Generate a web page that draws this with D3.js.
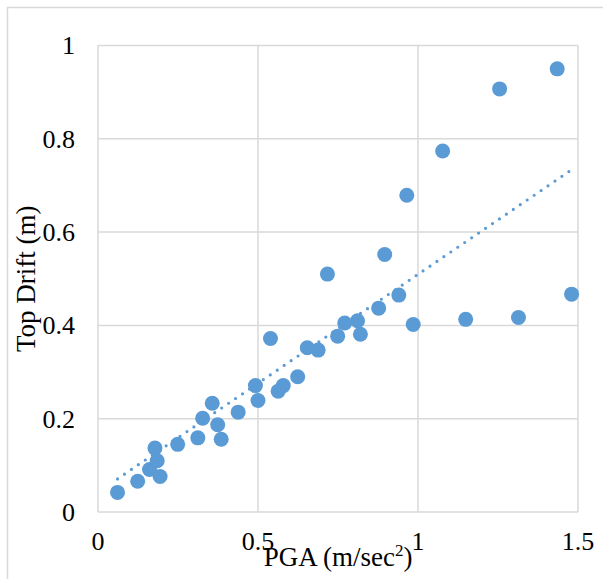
<!DOCTYPE html>
<html>
<head>
<meta charset="utf-8">
<script src="https://cdn.jsdelivr.net/npm/d3@7"></script>
<style>
  html, body { margin: 0; padding: 0; background: #fff; }
  svg { display: block; }
</style>
</head>
<body>
<svg id="chart"></svg>
<script>
// PGA (m/sec^2) per run
const pga = [0.061, 0.124, 0.178, 0.161, 0.185, 0.194, 0.249, 0.312, 0.327, 0.357,
  0.374, 0.385, 0.438, 0.492, 0.500, 0.539, 0.563, 0.579, 0.624, 0.654,
  0.688, 0.717, 0.749, 0.771, 0.811, 0.820, 0.877, 0.896, 0.940, 0.965,
  0.985, 1.077, 1.149, 1.255, 1.314, 1.435, 1.480];
// top drift (m) per run
const drift = [0.042, 0.066, 0.137, 0.091, 0.110, 0.076, 0.145, 0.159, 0.201, 0.233,
  0.187, 0.156, 0.214, 0.271, 0.239, 0.372, 0.259, 0.271, 0.290, 0.352,
  0.347, 0.510, 0.377, 0.405, 0.410, 0.381, 0.437, 0.552, 0.465, 0.679,
  0.402, 0.774, 0.413, 0.907, 0.417, 0.950, 0.467];
// linear trendline as drawn in the chart: drift = trendIntercept + trendSlope * pga
const trendSlope = 0.467;
const trendIntercept = 0.0425;
const xTicks = [0, 0.5, 1, 1.5];
const yTicks = [0, 0.2, 0.4, 0.6, 0.8, 1];

const width = 603, height = 579;
const margin = {top: 45.5, right: 25, bottom: 67, left: 98};
const blue = "#5b9bd5";
const grid = "#d9d9d9";
const font = "'Liberation Serif', 'Times New Roman', serif";

const svg = d3.select("#chart")
    .attr("width", width)
    .attr("height", height);

// chart area border
svg.append("rect")
    .attr("x", 7.5).attr("y", 7.5)
    .attr("width", width).attr("height", height)
    .attr("fill", "none")
    .attr("stroke", grid)
    .attr("stroke-width", 1.5);

const x = d3.scaleLinear().domain([0, 1.5]).range([margin.left, width - margin.right]);
const y = d3.scaleLinear().domain([0, 1]).range([height - margin.bottom, margin.top]);

// gridlines
svg.append("g")
    .selectAll("line")
    .data(xTicks)
    .join("line")
    .attr("x1", d => x(d)).attr("x2", d => x(d))
    .attr("y1", y(0)).attr("y2", y(1))
    .attr("stroke", grid).attr("stroke-width", 1.5);

svg.append("g")
    .selectAll("line")
    .data(yTicks)
    .join("line")
    .attr("x1", x(0)).attr("x2", x(1.5))
    .attr("y1", d => y(d)).attr("y2", d => y(d))
    .attr("stroke", grid).attr("stroke-width", 1.5);

// tick labels
svg.append("g")
    .selectAll("text")
    .data(xTicks)
    .join("text")
    .attr("x", d => x(d))
    .attr("y", y(0) + 38)
    .attr("text-anchor", "middle")
    .attr("font-family", font)
    .attr("font-size", 26)
    .text(d => d3.format("")(d));

svg.append("g")
    .selectAll("text")
    .data(yTicks)
    .join("text")
    .attr("x", x(0) - 23)
    .attr("y", d => y(d))
    .attr("dy", "0.34em")
    .attr("text-anchor", "end")
    .attr("font-family", font)
    .attr("font-size", 26)
    .text(d => d3.format("")(d));

// axis titles
const xt = svg.append("text")
    .attr("x", (x(0) + x(1.5)) / 2)
    .attr("y", 566)
    .attr("text-anchor", "middle")
    .attr("font-family", font)
    .attr("font-size", 27)
    .text("PGA (m/sec");
xt.append("tspan").attr("dy", -10).attr("font-size", 17).text("2");
xt.append("tspan").attr("dy", 10).text(")");

svg.append("text")
    .attr("transform", `translate(35,${(y(0) + y(1)) / 2}) rotate(-90)`)
    .attr("text-anchor", "middle")
    .attr("font-family", font)
    .attr("font-size", 27)
    .text("Top Drift (m)");

// dotted trendline across the data range
const xr = d3.extent(pga);
svg.append("line")
    .attr("x1", x(xr[0])).attr("y1", y(trendIntercept + trendSlope * xr[0]))
    .attr("x2", x(xr[1])).attr("y2", y(trendIntercept + trendSlope * xr[1]))
    .attr("stroke", blue)
    .attr("stroke-width", 3.2)
    .attr("stroke-linecap", "round")
    .attr("stroke-dasharray", "0 8.4");

// markers
svg.append("g")
    .selectAll("circle")
    .data(pga)
    .join("circle")
    .attr("cx", d => x(d))
    .attr("cy", (d, i) => y(drift[i]))
    .attr("r", 7.5)
    .attr("fill", blue);
</script>
</body>
</html>
